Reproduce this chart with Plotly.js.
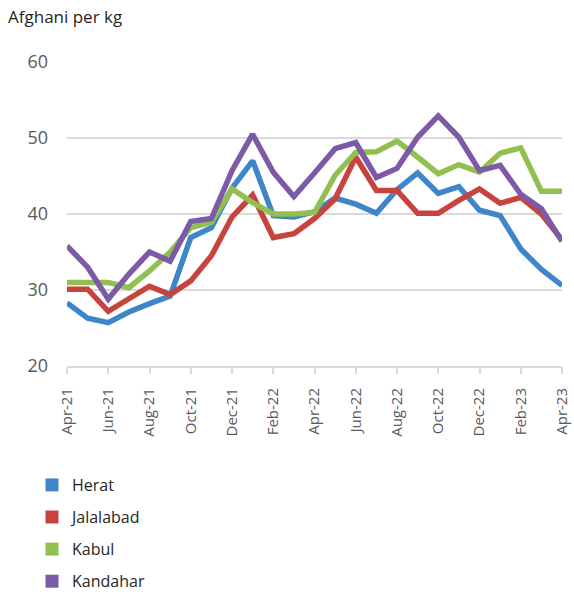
<!DOCTYPE html>
<html>
<head>
<meta charset="utf-8">
<script src="https://cdn.plot.ly/plotly-3.0.1.min.js"></script>
<style>html,body{margin:0;padding:0;background:#fff;}#chart{width:574px;height:594px;}</style>
</head>
<body>
<div id="chart"></div>
<script>
const months = ["Apr-21","May-21","Jun-21","Jul-21","Aug-21","Sep-21","Oct-21","Nov-21","Dec-21",
  "Jan-22","Feb-22","Mar-22","Apr-22","May-22","Jun-22","Jul-22","Aug-22","Sep-22","Oct-22","Nov-22","Dec-22",
  "Jan-23","Feb-23","Mar-23","Apr-23"];
const tickLabels = ["Apr-21","Jun-21","Aug-21","Oct-21","Dec-21","Feb-22","Apr-22","Jun-22","Aug-22","Oct-22","Dec-22","Feb-23","Apr-23"];

const herat     = [28.3,26.3,25.7,27.1,28.2,29.2,36.9,38.2,43.4,47.0,39.8,39.6,40.3,42.1,41.3,40.1,43.2,45.4,42.7,43.6,40.5,39.8,35.4,32.7,30.6];
const jalalabad = [30.1,30.1,27.2,28.8,30.5,29.4,31.2,34.5,39.6,42.5,36.9,37.4,39.4,42.0,47.5,43.1,43.1,40.1,40.1,41.8,43.3,41.4,42.2,40.0,36.6];
const kabul     = [31.0,31.0,31.0,30.3,32.5,35.0,38.2,38.9,43.3,41.5,40.0,40.0,40.2,45.1,48.1,48.2,49.6,47.5,45.3,46.5,45.5,48.0,48.7,43.0,43.0];
const kandahar  = [35.8,33.0,28.8,32.1,35.0,33.8,39.0,39.4,45.7,50.5,45.5,42.3,45.4,48.6,49.4,44.8,46.0,50.1,52.9,50.1,45.7,46.4,42.6,40.7,36.4];

const seriesNames = ["Herat","Jalalabad","Kabul","Kandahar"];
const seriesData = [herat, jalalabad, kabul, kandahar];
const colors = ["#3f85c9","#c6433e","#92c050","#7d5aa6"];

const traces = [];
seriesData.forEach((d, i) => {
  traces.push({
    x: months, y: d, type: "scatter", mode: "lines", cliponaxis: false,
    line: {color: colors[i], width: 5.5, shape: "linear"},
    name: seriesNames[i], legendgroup: seriesNames[i], showlegend: false,
    hoverinfo: "x+y+name"
  });
});
seriesData.forEach((d, i) => {
  traces.push({
    x: [null], y: [null], type: "scatter", mode: "markers",
    marker: {color: colors[i], symbol: "square", size: 13},
    name: seriesNames[i], legendgroup: seriesNames[i], showlegend: true
  });
});

const font = "'Open Sans', sans-serif";
const layout = {
  width: 574, height: 594,
  margin: {l: 67, r: 12, t: 62, b: 228, autoexpand: false},
  paper_bgcolor: "#fff", plot_bgcolor: "#fff",
  font: {family: font, color: "#595959", size: 15},
  title: {text: "Afghani per kg", x: 8/574, xanchor: "left", y: 1 - 11/594, yanchor: "top",
          font: {family: font, size: 17, color: "#262626"}},
  xaxis: {
    type: "category", range: [0, 24], tickmode: "array", tickvals: tickLabels, ticktext: tickLabels,
    tickangle: -90, ticks: "outside", ticklen: 6, tickwidth: 2, tickcolor: "#d9d9d9",
    ticklabelstandoff: 8, automargin: false,
    showline: true, linecolor: "#d9d9d9", linewidth: 2, showgrid: false,
    tickfont: {family: font, size: 15, color: "#595959"}, fixedrange: true
  },
  yaxis: {
    range: [20, 60], dtick: 10, tick0: 20, showgrid: true, gridcolor: "#d9d9d9", gridwidth: 2,
    zeroline: false, showline: false, ticks: "", ticklabelstandoff: 18, automargin: false,
    tickfont: {family: font, size: 18, color: "#595959"}, fixedrange: true
  },
  showlegend: true,
  legend: {
    x: -35/495, xanchor: "left", y: -102/304, yanchor: "top", orientation: "v",
    tracegroupgap: 8.3, font: {family: font, size: 16, color: "#262626"},
    bgcolor: "rgba(0,0,0,0)", itemclick: false, itemdoubleclick: false
  }
};

Plotly.newPlot("chart", traces, layout, {displayModeBar: false});
</script>
</body>
</html>
